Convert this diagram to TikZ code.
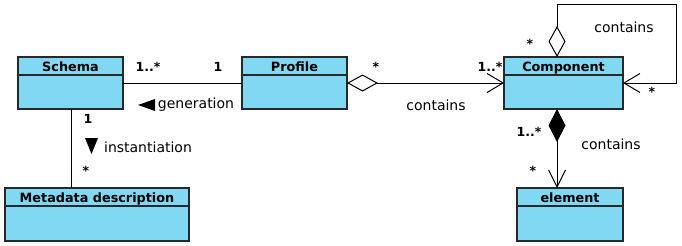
\documentclass[tikz,border=0pt]{standalone}
\usepackage{fontspec}
\setmainfont{DejaVu Sans}
\usetikzlibrary{arrows.meta}
\definecolor{clsfill}{RGB}{128,216,242}
\definecolor{clsline}{RGB}{40,40,40}
\tikzset{
  cls/.style={draw=clsline, fill=clsfill, line width=1.2pt, rectangle, inner sep=0pt, outer sep=0pt, anchor=north west},
  clsname/.style={font=\bfseries\fontsize{12.8}{12.8}\selectfont, inner sep=0pt, anchor=base},
  mult/.style={font=\bfseries\fontsize{12.5}{12.5}\selectfont, inner sep=0pt},
  lbl/.style={font=\fontsize{14}{14}\selectfont, inner sep=0pt},
  assoc/.style={draw=black, line width=0.9pt},
  aggr/.style={{Diamond[open,length=31pt,width=17pt,line width=1pt]}-{Straight Barb[length=16pt,width=19pt,line width=1pt]}},
  comp/.style={{Diamond[length=33pt,width=17pt]}-{Straight Barb[length=17pt,width=17pt,line width=1pt]}},
}
\newcommand{\umlbox}[6]{%
  \node[cls, minimum width=#4pt, minimum height=#5pt] (#1) at (#2,#3) {};
  \draw[draw=clsline, line width=1.2pt] ([yshift=-18pt]#1.north west) -- ([yshift=-18pt]#1.north east);
  \node[clsname] (#1-name) at ([yshift=-14pt]#1.north) {#6};
}
\begin{document}
\begin{tikzpicture}[x=1pt,y=-1pt]
  \useasboundingbox (0,0) rectangle (682,246);
  \fill[white] (0,0) rectangle (682,246);

  % classes
  \umlbox{schema}{18}{57}{105}{52}{Schema}
  \umlbox{profile}{242}{57}{105}{52}{Profile}
  \umlbox{component}{504}{57}{119}{52}{Component}
  \umlbox{meta}{5}{188}{184}{53}{Metadata description}
  \umlbox{element}{517}{188}{106}{53}{element}

  % anchor points on the Component box and the self loop
  \coordinate (ctop) at ([xshift=53pt]component.north west);
  \coordinate (cbot) at ([xshift=53pt]component.south west);
  \coordinate (sbot) at ([xshift=53pt]schema.south west);
  \coordinate (loopTL) at (557,4);
  \coordinate (loopTR) at (676,4);
  \coordinate (loopBR) at (676,83);

  % associations
  \draw[assoc] (schema.east) -- (profile.west);
  \draw[assoc, aggr] (profile.east) -- (component.west);
  \draw[assoc, aggr] (ctop) -- (loopTL) -- (loopTR) -- (loopBR) -- (component.east);
  \draw[assoc, comp] (cbot) -- (cbot |- element.north);
  \draw[assoc] (sbot) -- (sbot |- meta.north);

  % multiplicities
  \node[mult] (m1) at (148,67) {1..*};
  \node[mult] (m2) at (218,67) {1};
  \node[mult] (m3) at (376,67) {*};
  \node[mult] (m4) at (490,67) {1..*};
  \node[mult] (m5) at (530,44) {*};
  \node[mult] (m6) at (652,92) {*};
  \node[mult] (m7) at (529,132) {1..*};
  \node[mult] (m8) at (533,171) {*};
  \node[mult] (m9) at (88,119) {1};
  \node[mult] (m10) at (86,171) {*};

  % role names
  \node[lbl] (gen) at (196,105) {generation};
  \fill (138,105) -- (155,99) -- (155,111) -- cycle;
  \node[lbl] (inst) at (148,147) {instantiation};
  \fill (85,138) -- (98,138) -- (91.5,154) -- cycle;
  \node[lbl] (c1) at (436,105) {contains};
  \node[lbl] (c2) at (624,27) {contains};
  \node[lbl] (c3) at (611,144) {contains};
\end{tikzpicture}
\end{document}
